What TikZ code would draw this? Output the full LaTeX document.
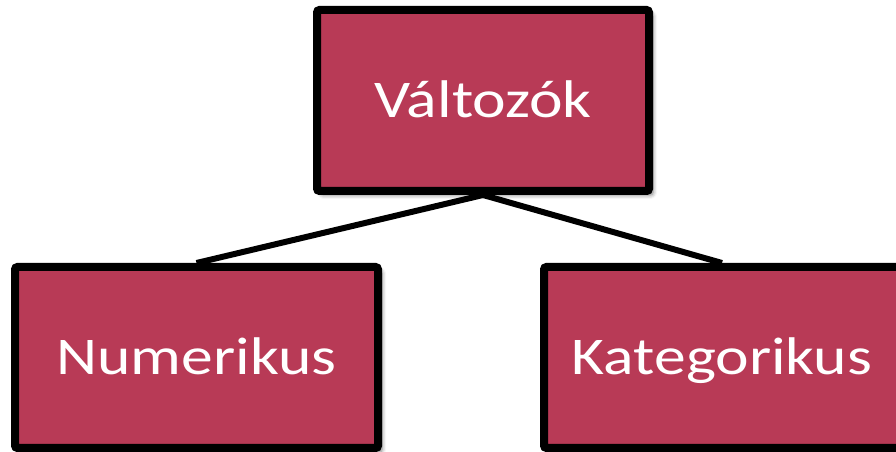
\documentclass[tikz,border=0pt]{standalone}
\usepackage{fontspec}
\usepackage{graphicx}
\setmainfont{Carlito}
\usetikzlibrary{shadows.blur,backgrounds}
\definecolor{boxfill}{RGB}{184,58,86}
% labels are set a little wider than the font's natural width
\newcommand\widelabel[1]{\scalebox{1.2}[1]{#1}}
\tikzset{
  catbox/.style={rectangle, draw=black, line width=8pt, rounded corners=2.5pt,
    fill=boxfill, text=white, inner sep=0pt,
    font=\fontsize{53}{60}\selectfont,
    text height=42.4pt, text depth=8.3pt,
    blur shadow={shadow xshift=4pt, shadow yshift=-4pt,
      shadow blur radius=4pt, shadow opacity=55}},
  link/.style={draw=black, line width=6pt}
}
\begin{document}
\begin{tikzpicture}[x=1pt,y=1pt]
  \useasboundingbox (0,0) rectangle (896,452);
  % root and the two categories
  \node[catbox, minimum width=332pt, minimum height=181pt] (root) at (483,351.5) {\widelabel{Változók}};
  \node[catbox, minimum width=363pt, minimum height=181pt] (num) at (196.5,94.5) {\widelabel{Numerikus}};
  \node[catbox, minimum width=356pt, minimum height=181pt] (kat) at (722,94.5) {\widelabel{Kategorikus}};
  % tree connectors behind the boxes
  \begin{scope}[on background layer]
    \draw[link] (root.south) -- (num.north);
    \draw[link] (root.south) -- (kat.north);
  \end{scope}
\end{tikzpicture}
\end{document}
